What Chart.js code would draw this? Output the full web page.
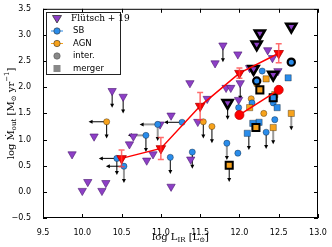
<!DOCTYPE html>
<html>
<head>
<meta charset="utf-8">
<script src="https://cdn.jsdelivr.net/npm/chart.js@4"></script>
<style>
html, body { margin: 0; padding: 0; background: #fff; }
#wrap { width: 332px; height: 247px; }
</style>
</head>
<body>
<div id="wrap"><canvas id="outflowChart"></canvas></div>
<script>
// Flütsch+19 upper limits (purple triangles)
const flutschX = [9.87, 10.00, 10.07, 10.25, 10.30, 10.15, 10.38, 10.52, 10.60, 10.65, 10.82, 10.90, 10.99, 11.13, 11.13, 11.38, 11.37, 11.59, 11.47, 11.69, 11.79, 11.98, 11.83, 11.89, 12.01, 11.99, 12.36, 12.42, 12.49, 12.13];
const flutschY = [0.72, 0.02, 0.19, 0.02, 0.17, 1.06, 1.93, 1.82, 0.91, 1.06, 0.60, 0.72, 1.29, 1.46, 0.10, 0.62, 2.08, 1.78, 1.34, 2.46, 2.80, 2.63, 1.99, 1.99, 2.08, 1.76, 2.71, 2.56, 2.31, 2.37];
// Flütsch+19 with black edge
const bigTriX = [12.26, 12.66, 12.22, 12.18, 12.43, 11.85];
const bigTriY = [3.03, 3.16, 2.82, 2.35, 2.24, 1.70];

// starbursts / AGN, circles
const sbX = [10.44, 10.53, 10.81, 10.96, 11.12, 11.40, 11.27, 11.84, 11.98, 12.34, 12.29, 12.16, 11.99, 12.45, 12.43];
const sbY = [0.64, 0.49, 1.08, 1.29, 0.66, 0.76, 1.33, 0.93, 0.74, 1.14, 2.31, 1.70, 1.61, 1.38, 1.70];
const agnX = [10.31, 11.54, 11.65, 12.22, 12.31, 12.15];
const agnY = [1.34, 1.34, 1.25, 2.06, 1.50, 1.78];

// mergers, squares
const sbSqX = [12.62, 12.48, 12.25, 12.17, 12.10];
const sbSqY = [2.18, 1.61, 1.33, 1.31, 1.12];
const agnSqX = [12.34, 12.45, 12.43, 12.66, 12.13];
const agnSqY = [2.16, 1.86, 1.23, 1.50, 1.61];

// black edged markers
const interX = [12.22, 12.66];
const interY = [2.12, 2.48];
const boxAgnX = [12.26, 11.87, 12.21];
const boxAgnY = [1.95, 0.51, 1.23];
const boxSbX = [12.43];
const boxSbY = [1.80];

// binned medians
const binX = [10.5, 11.0, 11.5, 12.0, 12.5];
const binY = [0.64, 0.83, 1.64, 2.27, 2.65];
const binErr = [0.16, 0.21, 0.26, 0.10, 0.18];
const bin2X = [12.0, 12.5];
const bin2Y = [1.47, 1.95];

// limits: down arrows (gray = 1 for grey shaft) and left arrows
const downX = [10.38, 10.52, 10.31, 10.44, 10.53, 10.81, 10.96, 11.12, 11.40, 11.54, 11.65, 11.79, 12.01, 11.85, 11.84, 11.87, 12.34, 12.43, 12.66, 12.12];
const downY = [1.93, 1.82, 1.34, 0.64, 0.49, 1.08, 1.29, 0.66, 0.76, 1.34, 1.25, 2.80, 2.08, 1.70, 0.93, 0.51, 1.14, 1.23, 1.50, 1.12];
const downGray = [0, 0, 0, 0, 1, 0, 1, 0, 0, 0, 0, 0, 0, 0, 1, 0, 0, 1, 1, 0];
const leftX = [10.31, 10.44, 10.53, 10.81, 10.96, 11.27];
const leftY = [1.34, 0.64, 0.49, 1.08, 1.29, 1.33];
const leftGray = [0, 0, 0, 1, 1, 0];

const xTicks = [9.5, 10.0, 10.5, 11.0, 11.5, 12.0, 12.5, 13.0];
const yTicks = [-0.5, 0.0, 0.5, 1.0, 1.5, 2.0, 2.5, 3.0, 3.5];

const PURPLE = "#8d3fc6";
const BLUE = "#2a8cea";
const ORANGE = "#f6a21c";

const pts = (xs, ys) => xs.map((x, i) => ({ x: x, y: ys[i] }));

function arrow(ctx, x0, y0, x1, y1, shaft) {
    const a = Math.atan2(y1 - y0, x1 - x0);
    ctx.strokeStyle = shaft;
    ctx.lineWidth = shaft === "#000" ? 1 : 2;
    ctx.beginPath();
    ctx.moveTo(x0, y0);
    ctx.lineTo(x1 - 3 * Math.cos(a), y1 - 3 * Math.sin(a));
    ctx.stroke();
    ctx.fillStyle = "#000";
    ctx.beginPath();
    ctx.moveTo(x1, y1);
    ctx.lineTo(x1 - 4 * Math.cos(a) + 2 * Math.sin(a), y1 - 4 * Math.sin(a) - 2 * Math.cos(a));
    ctx.lineTo(x1 - 4 * Math.cos(a) - 2 * Math.sin(a), y1 - 4 * Math.sin(a) + 2 * Math.cos(a));
    ctx.closePath();
    ctx.fill();
}

// draws text with sub/superscript parts, centred on (cx, cy)
function richText(ctx, parts, cx, cy, size) {
    const big = size + "px 'DejaVu Serif'";
    const small = Math.round(size * 0.7) + "px 'DejaVu Serif'";
    let total = 0;
    parts.forEach(p => {
        ctx.font = p[1] ? small : big;
        total += ctx.measureText(p[0]).width;
    });
    let x = cx - total / 2;
    ctx.textBaseline = "middle";
    ctx.textAlign = "left";
    parts.forEach(p => {
        ctx.font = p[1] ? small : big;
        const dy = p[1] === "sub" ? size * 0.3 : p[1] === "sup" ? -size * 0.4 : 0;
        ctx.fillText(p[0], x, cy + dy);
        x += ctx.measureText(p[0]).width;
    });
}

const limitsPlugin = {
    id: "limits",
    beforeDatasetsDraw(chart) {
        const { ctx, scales: { x, y } } = chart;
        ctx.save();
        downX.forEach((v, i) => {
            const px = x.getPixelForValue(v);
            arrow(ctx, px, y.getPixelForValue(downY[i]), px, y.getPixelForValue(downY[i] - 0.32), downGray[i] ? "#999" : "#000");
        });
        leftX.forEach((v, i) => {
            const py = y.getPixelForValue(leftY[i]);
            arrow(ctx, x.getPixelForValue(v), py, x.getPixelForValue(v - 0.23), py, leftGray[i] ? "#999" : "#000");
        });
        ctx.restore();
    },
    afterDatasetsDraw(chart) {
        const { ctx, scales: { x, y } } = chart;
        ctx.save();
        // error bars of the binned points
        ctx.strokeStyle = "rgba(255, 60, 60, 0.75)";
        ctx.lineWidth = 1.5;
        binX.forEach((v, i) => {
            const px = x.getPixelForValue(v);
            const y0 = y.getPixelForValue(binY[i] - binErr[i]);
            const y1 = y.getPixelForValue(binY[i] + binErr[i]);
            ctx.beginPath();
            ctx.moveTo(px, y0); ctx.lineTo(px, y1);
            ctx.moveTo(px - 3, y0); ctx.lineTo(px + 3, y0);
            ctx.moveTo(px - 3, y1); ctx.lineTo(px + 3, y1);
            ctx.stroke();
        });
        ctx.restore();
    },
    afterDraw(chart) {
        const { ctx, chartArea: { left, right, top, bottom }, scales: { x, y } } = chart;
        ctx.save();
        ctx.strokeStyle = "#000";
        ctx.lineWidth = 1;
        ctx.strokeRect(left + 0.5, top + 0.5, right - left - 1, bottom - top - 1);
        ctx.beginPath();
        xTicks.forEach(v => {
            const px = Math.round(x.getPixelForValue(v)) + 0.5;
            ctx.moveTo(px, bottom); ctx.lineTo(px, bottom - 4);
            ctx.moveTo(px, top); ctx.lineTo(px, top + 4);
        });
        yTicks.forEach(v => {
            const py = Math.round(y.getPixelForValue(v)) + 0.5;
            ctx.moveTo(left, py); ctx.lineTo(left + 4, py);
            ctx.moveTo(right, py); ctx.lineTo(right - 4, py);
        });
        ctx.stroke();

        // axis titles
        ctx.fillStyle = "#000";
        richText(ctx, [["log L"], ["IR", "sub"], [" [L"], ["\u2299", "sub"], ["]"]], (left + right) / 2, 237, 10);
        ctx.save();
        ctx.translate(11, (top + bottom) / 2);
        ctx.rotate(-Math.PI / 2);
        richText(ctx, [["log \u1E40"], ["out", "sub"], [" [M"], ["\u2299", "sub"], [" yr"], ["\u22121", "sup"], ["]"]], 0, 0, 10);
        ctx.restore();

        // legend
        ctx.fillStyle = "#fff";
        ctx.fillRect(46, 12, 75, 63);
        ctx.strokeStyle = "#222";
        ctx.strokeRect(46.5, 12.5, 74, 62);
        const rows = [18.5, 31, 43.5, 56, 68.5];
        const mx = 57;
        // triangle
        ctx.fillStyle = PURPLE; ctx.strokeStyle = "#333"; ctx.lineWidth = 0.8;
        ctx.beginPath();
        ctx.moveTo(mx - 4.5, rows[0] - 3); ctx.lineTo(mx + 4.5, rows[0] - 3); ctx.lineTo(mx, rows[0] + 4.5);
        ctx.closePath(); ctx.fill(); ctx.stroke();
        // SB and AGN with small error stubs
        [[BLUE, rows[1]], [ORANGE, rows[2]]].forEach(r => {
            ctx.strokeStyle = r[0]; ctx.lineWidth = 1;
            ctx.beginPath(); ctx.moveTo(mx - 6, r[1]); ctx.lineTo(mx + 6, r[1]); ctx.stroke();
            ctx.fillStyle = r[0]; ctx.strokeStyle = "#333"; ctx.lineWidth = 0.6;
            ctx.beginPath(); ctx.arc(mx, r[1], 3.2, 0, 2 * Math.PI); ctx.fill(); ctx.stroke();
        });
        ctx.fillStyle = "#888"; ctx.strokeStyle = "#555";
        ctx.beginPath(); ctx.arc(mx, rows[3], 3.2, 0, 2 * Math.PI); ctx.fill(); ctx.stroke();
        ctx.fillRect(mx - 3.5, rows[4] - 3.5, 7, 7);
        ctx.fillStyle = "#000";
        ctx.textAlign = "left"; ctx.textBaseline = "middle";
        ctx.font = "9px 'DejaVu Serif'";
        ctx.fillText("Fl\u00fctsch + 19", 71, rows[0]);
        ctx.font = "8.5px 'DejaVu Sans'";
        ctx.fillText("SB", 73, rows[1]);
        ctx.fillText("AGN", 73, rows[2]);
        ctx.fillText("inter.", 73, rows[3]);
        ctx.fillText("merger", 73, rows[4]);
        ctx.restore();
    }
};

const edge = "rgba(0, 0, 0, 0.55)";

new Chart(document.getElementById("outflowChart"), {
    type: "scatter",
    data: {
        datasets: [
            {
                data: pts(bin2X, bin2Y), showLine: true, borderColor: "#ff0000", borderWidth: 1.5,
                pointStyle: "circle", pointRadius: 4.5, pointBackgroundColor: "#ff0000", pointBorderColor: "#c00000", pointBorderWidth: 0.8
            },
            {
                data: pts(binX, binY), showLine: true, borderColor: "#ff0000", borderWidth: 1.5,
                pointStyle: "triangle", pointRotation: 180, pointRadius: 5.5, pointBackgroundColor: "#ff0000", pointBorderColor: "#b00000", pointBorderWidth: 0.8
            },
            {
                data: pts(interX, interY), pointStyle: "circle", pointRadius: 3.6,
                backgroundColor: BLUE, borderColor: "#000", borderWidth: 2.2
            },
            {
                data: pts(boxSbX, boxSbY), pointStyle: "rect", pointRadius: 5,
                backgroundColor: BLUE, borderColor: "#000", borderWidth: 2
            },
            {
                data: pts(boxAgnX, boxAgnY), pointStyle: "rect", pointRadius: 5,
                backgroundColor: ORANGE, borderColor: "#000", borderWidth: 2
            },
            {
                data: pts(bigTriX, bigTriY), pointStyle: "triangle", pointRotation: 180, pointRadius: 5.8,
                backgroundColor: PURPLE, borderColor: "#000", borderWidth: 2.6
            },
            {
                data: pts(sbSqX, sbSqY), pointStyle: "rect", pointRadius: 4.4,
                backgroundColor: BLUE, borderColor: edge, borderWidth: 0.6
            },
            {
                data: pts(agnSqX, agnSqY), pointStyle: "rect", pointRadius: 4.4,
                backgroundColor: ORANGE, borderColor: edge, borderWidth: 0.6
            },
            {
                data: pts(sbX, sbY), pointStyle: "circle", pointRadius: 3.1,
                backgroundColor: BLUE, borderColor: edge, borderWidth: 0.6
            },
            {
                data: pts(agnX, agnY), pointStyle: "circle", pointRadius: 3.1,
                backgroundColor: ORANGE, borderColor: edge, borderWidth: 0.6
            },
            {
                data: pts(flutschX, flutschY), pointStyle: "triangle", pointRotation: 180, pointRadius: 4.8,
                backgroundColor: PURPLE, borderColor: "#4a1a70", borderWidth: 0.6
            }
        ]
    },
    options: {
        responsive: true,
        maintainAspectRatio: false,
        animation: false,
        events: [],
        layout: { padding: { top: 7, right: 14, left: 0, bottom: 0 } },
        plugins: { legend: { display: false }, tooltip: { enabled: false } },
        scales: {
            x: {
                type: "linear", min: 9.5, max: 13.0,
                afterFit: s => { s.height = 29; },
                grid: { display: false }, border: { display: false },
                ticks: {
                    stepSize: 0.5, autoSkip: false, padding: 2, color: "#000",
                    font: { family: "DejaVu Sans", size: 8 },
                    callback: v => v.toFixed(1)
                }
            },
            y: {
                type: "linear", min: -0.5, max: 3.5,
                afterFit: s => { s.width = 43; },
                grid: { display: false }, border: { display: false },
                ticks: {
                    stepSize: 0.5, autoSkip: false, padding: 4, color: "#000",
                    font: { family: "DejaVu Sans", size: 8 },
                    callback: v => v.toFixed(1).replace("-", "\u2212")
                }
            }
        }
    },
    plugins: [limitsPlugin]
});
</script>
</body>
</html>
